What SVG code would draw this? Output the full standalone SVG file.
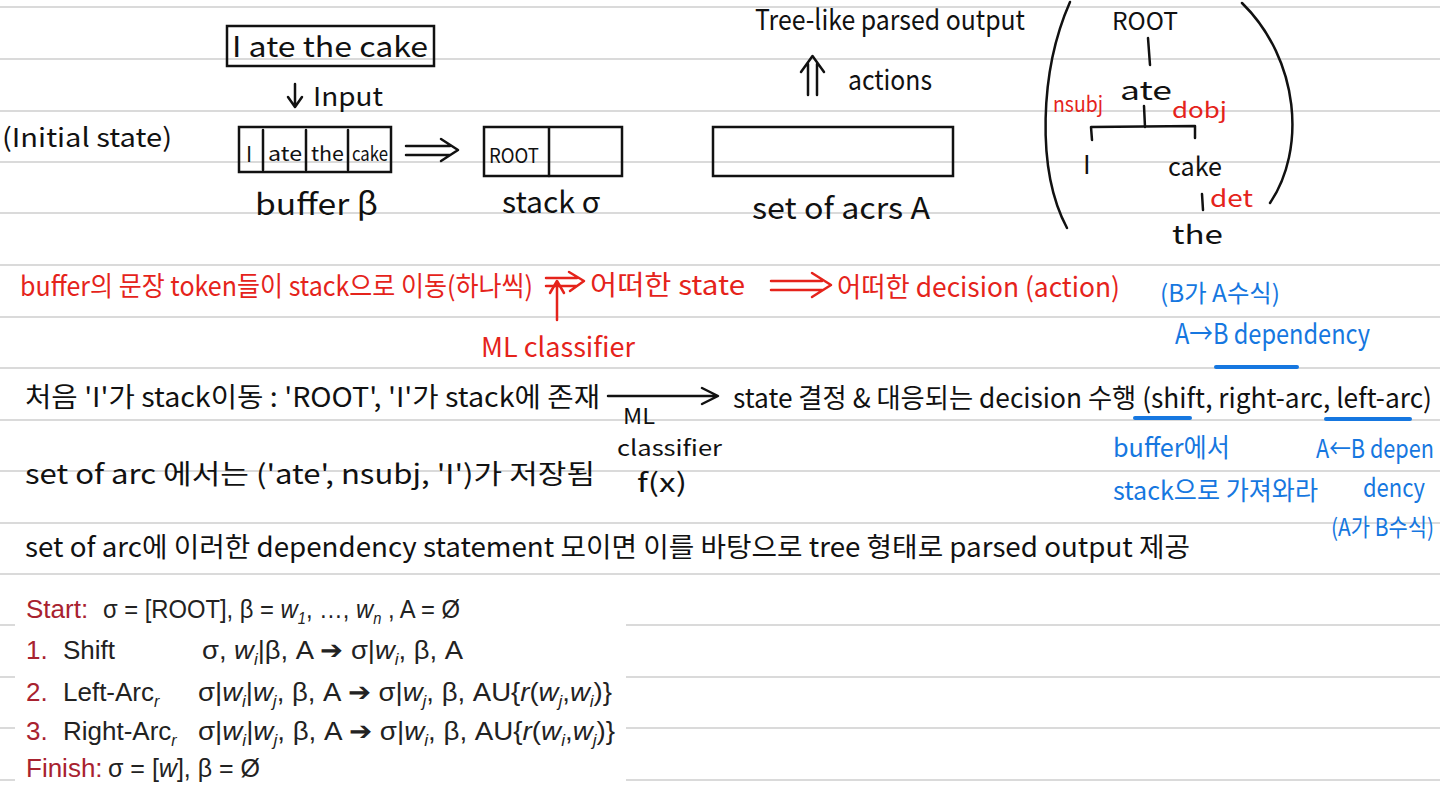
<svg xmlns="http://www.w3.org/2000/svg" width="1440" height="793" viewBox="0 0 1440 793">
<style>
.rule{stroke:#dadada;stroke-width:2}
.hw{font-family:"Noto Sans CJK KR","Noto Sans",sans-serif;fill:#111}
.red{fill:#e5231b}
.blue{fill:#1677e0}
.ink{stroke:#111;stroke-width:2.5;fill:none;stroke-linecap:round;stroke-linejoin:round}
.rink{stroke:#e5231b;stroke-width:2.5;fill:none;stroke-linecap:round;stroke-linejoin:round}
.bink{stroke:#1677e0;stroke-width:4;fill:none;stroke-linecap:round}
.box{stroke:#111;stroke-width:2.5;fill:none}
.slide{font-family:"Liberation Sans","Noto Sans",sans-serif;font-size:26px;fill:#222}
.sr{fill:#a8222f}
.it{font-style:italic}
.sub{font-size:16px;font-style:italic}
</style>
<rect width="1440" height="793" fill="#ffffff"/>
<g id="ruled-lines">
<line class="rule" x1="0" y1="7" x2="1440" y2="7"/>
<line class="rule" x1="0" y1="59" x2="1440" y2="59"/>
<line class="rule" x1="0" y1="111" x2="1440" y2="111"/>
<line class="rule" x1="0" y1="162" x2="1440" y2="162"/>
<line class="rule" x1="0" y1="213" x2="1440" y2="213"/>
<line class="rule" x1="0" y1="265" x2="1440" y2="265"/>
<line class="rule" x1="0" y1="317" x2="1440" y2="317"/>
<line class="rule" x1="0" y1="368" x2="1440" y2="368"/>
<line class="rule" x1="0" y1="420" x2="1440" y2="420"/>
<line class="rule" x1="0" y1="471" x2="1440" y2="471"/>
<line class="rule" x1="0" y1="523" x2="1440" y2="523"/>
<line class="rule" x1="0" y1="574" x2="1440" y2="574"/>
<line class="rule" x1="0" y1="625" x2="1440" y2="625"/>
<line class="rule" x1="0" y1="677" x2="1440" y2="677"/>
<line class="rule" x1="0" y1="728" x2="1440" y2="728"/>
<line class="rule" x1="0" y1="780" x2="1440" y2="780"/>
</g>

<g id="sentence">
<rect class="box" x="227" y="26" width="207" height="40"/>
<text class="hw" x="232" y="57" font-size="28" textLength="196" lengthAdjust="spacingAndGlyphs">I ate the cake</text>
</g>
<g id="input-label">
<path class="ink" d="M295,84 L295,106 M288,97 L295,107 L302,97"/>
<text class="hw" x="313" y="106" font-size="26" textLength="70" lengthAdjust="spacingAndGlyphs">Input</text>
</g>
<g id="initial-state">
<text class="hw" x="2" y="147" font-size="26" textLength="170" lengthAdjust="spacingAndGlyphs">(Initial state)</text>
</g>
<g id="buffer">
<rect class="box" x="239" y="127" width="152" height="45"/>
<path class="ink" d="M263,130 L263,170 M306,130 L306,170 M348,130 L348,170"/>
<text class="hw" x="246" y="162" font-size="21">I</text>
<text class="hw" x="268" y="161" font-size="20" textLength="34" lengthAdjust="spacingAndGlyphs">ate</text>
<text class="hw" x="311" y="161" font-size="20" textLength="33" lengthAdjust="spacingAndGlyphs">the</text>
<text class="hw" x="352" y="161" font-size="20" textLength="36" lengthAdjust="spacingAndGlyphs">cake</text>
<text class="hw" x="255" y="215" font-size="30" textLength="123" lengthAdjust="spacingAndGlyphs">buffer β</text>
</g>
<g id="connectors">
<path class="ink" d="M406,146 L450,146 M406,155 L450,155 M441,139 L458,150 L441,161"/>
<path class="ink" d="M808,95 L808,64 M817,95 L817,64 M801,72 L812.5,56 L824,72"/>
<path class="rink" d="M546,278 L577,278 M546,286 L577,286 M569,272 L584,281 L570,291"/>
<path class="rink" d="M771,281 L822,281 M771,290 L822,290 M812,273 L831,285 L812,297"/>
<path class="rink" d="M557,320 L557,283 M550,293 L557,281 L564,293"/>
<path class="ink" d="M608,396 L716,396 M702,388 L718,396 L702,404"/>
</g>
<g id="stack">
<rect class="box" x="484" y="127" width="138" height="49"/>
<line class="ink" x1="549" y1="128" x2="549" y2="176"/>
<text class="hw" x="489" y="163" font-size="20" textLength="50" lengthAdjust="spacingAndGlyphs">ROOT</text>
<text class="hw" x="502" y="213" font-size="30" textLength="98" lengthAdjust="spacingAndGlyphs">stack σ</text>
</g>
<g id="arcs">
<rect class="box" x="713" y="127" width="240" height="49"/>
<text class="hw" x="752" y="219" font-size="30" textLength="178" lengthAdjust="spacingAndGlyphs">set of acrs A</text>
</g>
<g id="output">
<text class="hw" x="755" y="30" font-size="28" textLength="270" lengthAdjust="spacingAndGlyphs">Tree-like parsed output</text>
<text class="hw" x="848" y="90" font-size="28" textLength="84" lengthAdjust="spacingAndGlyphs">actions</text>
</g>
<g id="tree">
<path class="ink" d="M1070,2 C1040,70 1036,170 1067,228"/>
<path class="ink" d="M1242,3 C1300,60 1306,150 1270,203"/>
<text class="hw" x="1112" y="30" font-size="24" textLength="66" lengthAdjust="spacingAndGlyphs">ROOT</text>
<line class="ink" x1="1148" y1="38" x2="1150" y2="65"/>
<text class="hw" x="1120" y="100" font-size="26" textLength="52" lengthAdjust="spacingAndGlyphs">ate</text>
<text class="hw red" x="1053" y="112" font-size="22" textLength="50" lengthAdjust="spacingAndGlyphs">nsubj</text>
<text class="hw red" x="1172" y="118" font-size="22" textLength="55" lengthAdjust="spacingAndGlyphs">dobj</text>
<path class="ink" d="M1144,106 L1145,127 M1092,140 L1091,127 L1195,126 L1195,138"/>
<text class="hw" x="1083" y="174" font-size="26">I</text>
<text class="hw" x="1168" y="176" font-size="26" textLength="54" lengthAdjust="spacingAndGlyphs">cake</text>
<line class="ink" x1="1202" y1="194" x2="1203" y2="210"/>
<text class="hw red" x="1210" y="207" font-size="24" textLength="43" lengthAdjust="spacingAndGlyphs">det</text>
<text class="hw" x="1172" y="244" font-size="26" textLength="51" lengthAdjust="spacingAndGlyphs">the</text>
</g>
<g id="red-notes">
<text class="hw red" x="20" y="296" font-size="27" textLength="513" lengthAdjust="spacingAndGlyphs">buffer의 문장 token들이 stack으로 이동(하나씩)</text>
<text class="hw red" x="590" y="295" font-size="27" textLength="155" lengthAdjust="spacingAndGlyphs">어떠한 state</text>
<text class="hw red" x="837" y="297" font-size="27" textLength="283" lengthAdjust="spacingAndGlyphs">어떠한 decision (action)</text>
<text class="hw red" x="481" y="357" font-size="27" textLength="154" lengthAdjust="spacingAndGlyphs">ML classifier</text>
</g>
<g id="blue-notes">
<text class="hw blue" x="1160" y="302" font-size="24" textLength="120" lengthAdjust="spacingAndGlyphs">(B가 A수식)</text>
<text class="hw blue" x="1175" y="344" font-size="28" textLength="195" lengthAdjust="spacingAndGlyphs">A→B dependency</text>
<line class="bink" x1="1216" y1="367" x2="1297" y2="367"/>
<line class="bink" x1="1135" y1="418" x2="1190" y2="418"/>
<line class="bink" x1="1326" y1="419" x2="1410" y2="419"/>
<text class="hw blue" x="1113" y="457" font-size="26" textLength="117" lengthAdjust="spacingAndGlyphs">buffer에서</text>
<text class="hw blue" x="1113" y="500" font-size="26" textLength="205" lengthAdjust="spacingAndGlyphs">stack으로 가져와라</text>
<text class="hw blue" x="1316" y="458" font-size="26" textLength="118" lengthAdjust="spacingAndGlyphs">A←B depen</text>
<text class="hw blue" x="1363" y="497" font-size="26" textLength="62" lengthAdjust="spacingAndGlyphs">dency</text>
<text class="hw blue" x="1331" y="536" font-size="24" textLength="103" lengthAdjust="spacingAndGlyphs">(A가 B수식)</text>
</g>
<g id="black-notes">
<text class="hw" x="25" y="407" font-size="27" textLength="575" lengthAdjust="spacingAndGlyphs">처음 'I'가 stack이동 :   'ROOT', 'I'가 stack에 존재</text>
<text class="hw" x="623" y="424" font-size="22" textLength="32" lengthAdjust="spacingAndGlyphs">ML</text>
<text class="hw" x="617" y="456" font-size="22" textLength="105" lengthAdjust="spacingAndGlyphs">classifier</text>
<text class="hw" x="637" y="492" font-size="26" textLength="50" lengthAdjust="spacingAndGlyphs">f(x)</text>
<text class="hw" x="733" y="408" font-size="27" textLength="699" lengthAdjust="spacingAndGlyphs">state 결정 &amp; 대응되는 decision 수행 (shift, right-arc, left-arc)</text>
<text class="hw" x="25" y="484" font-size="27" textLength="570" lengthAdjust="spacingAndGlyphs">set of arc 에서는 ('ate', nsubj, 'I')가 저장됨</text>
<text class="hw" x="25" y="557" font-size="27" textLength="1165" lengthAdjust="spacingAndGlyphs">set of arc에 이러한 dependency statement 모이면 이를 바탕으로 tree 형태로 parsed output 제공</text>
</g>
<g id="transition-rules">
<rect x="15" y="588" width="611" height="205" fill="#ffffff"/>
<text class="slide sr" x="26" y="618">Start:</text>
<text class="slide" x="103" y="618" textLength="357" lengthAdjust="spacingAndGlyphs">σ = [ROOT], β = <tspan class="it">w</tspan><tspan class="sub" dy="6">1</tspan><tspan dy="-6">, …, </tspan><tspan class="it">w</tspan><tspan class="sub" dy="6">n</tspan><tspan dy="-6"> , A = Ø</tspan></text>
<text class="slide sr" x="26" y="659">1.</text>
<text class="slide" x="63" y="659">Shift</text>
<text class="slide" x="202" y="659" textLength="261" lengthAdjust="spacingAndGlyphs">σ, <tspan class="it">w</tspan><tspan class="sub" dy="6">i</tspan><tspan dy="-6">|β, A ➔ σ|</tspan><tspan class="it">w</tspan><tspan class="sub" dy="6">i</tspan><tspan dy="-6">, β, A</tspan></text>
<text class="slide sr" x="26" y="701">2.</text>
<text class="slide" x="63" y="701">Left-Arc<tspan class="sub" dy="6">r</tspan></text>
<text class="slide" x="198" y="701" textLength="414" lengthAdjust="spacingAndGlyphs">σ|<tspan class="it">w</tspan><tspan class="sub" dy="6">i</tspan><tspan dy="-6">|</tspan><tspan class="it">w</tspan><tspan class="sub" dy="6">j</tspan><tspan dy="-6">, β, A ➔ σ|</tspan><tspan class="it">w</tspan><tspan class="sub" dy="6">j</tspan><tspan dy="-6">, β, AU{</tspan><tspan class="it">r</tspan><tspan>(</tspan><tspan class="it">w</tspan><tspan class="sub" dy="6">j</tspan><tspan dy="-6">,</tspan><tspan class="it">w</tspan><tspan class="sub" dy="6">i</tspan><tspan dy="-6">)}</tspan></text>
<text class="slide sr" x="26" y="740">3.</text>
<text class="slide" x="63" y="740">Right-Arc<tspan class="sub" dy="6">r</tspan></text>
<text class="slide" x="198" y="740" textLength="417" lengthAdjust="spacingAndGlyphs">σ|<tspan class="it">w</tspan><tspan class="sub" dy="6">i</tspan><tspan dy="-6">|</tspan><tspan class="it">w</tspan><tspan class="sub" dy="6">j</tspan><tspan dy="-6">, β, A ➔ σ|</tspan><tspan class="it">w</tspan><tspan class="sub" dy="6">i</tspan><tspan dy="-6">, β, AU{</tspan><tspan class="it">r</tspan><tspan>(</tspan><tspan class="it">w</tspan><tspan class="sub" dy="6">i</tspan><tspan dy="-6">,</tspan><tspan class="it">w</tspan><tspan class="sub" dy="6">j</tspan><tspan dy="-6">)}</tspan></text>
<text class="slide sr" x="26" y="777">Finish:</text>
<text class="slide" x="108" y="777" textLength="152" lengthAdjust="spacingAndGlyphs">σ = [<tspan class="it">w</tspan>], β = Ø</text>
</g>
</svg>
